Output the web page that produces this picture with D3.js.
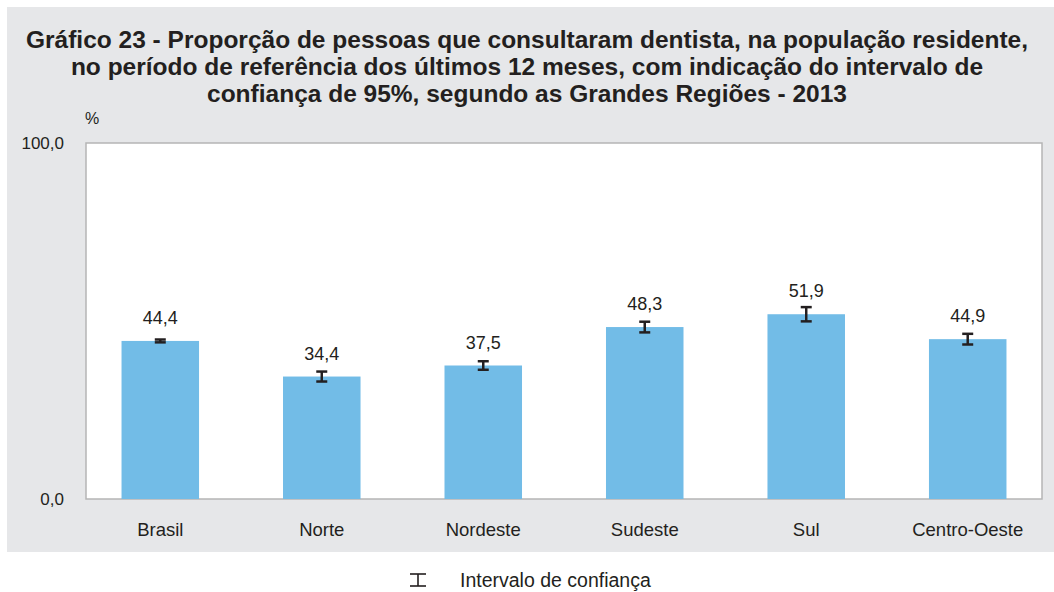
<!DOCTYPE html>
<html>
<head>
<meta charset="utf-8">
<script src="https://cdn.jsdelivr.net/npm/d3@7"></script>
<style>
  body { margin: 0; background: #fff; }
  text { font-family: "Liberation Sans", Arial, sans-serif; }
</style>
</head>
<body>
<div id="chart"></div>
<script>
// data
var regions = ["Brasil", "Norte", "Nordeste", "Sudeste", "Sul", "Centro-Oeste"];
var values = [44.4, 34.4, 37.5, 48.3, 51.9, 44.9];
var ciLow = [44.0, 33.0, 36.3, 46.8, 49.9, 43.4];
var ciHigh = [44.8, 35.8, 38.7, 49.8, 53.9, 46.4];
var yTicks = [0, 100];
var titleLines = [
  "Gráfico 23 - Proporção de pessoas que consultaram dentista, na população residente,",
  "no período de referência dos últimos 12 meses, com indicação do intervalo de",
  "confiança de 95%, segundo as Grandes Regiões - 2013"
];

var W = 1054, H = 592;
var margin = {top: 143, right: 12, bottom: 93, left: 86},
    width = W - margin.left - margin.right,
    height = 356;

var svg = d3.select("#chart").append("svg")
  .attr("width", W).attr("height", H);

// gray panel
svg.append("rect")
  .attr("x", 7).attr("y", 7)
  .attr("width", W - 7).attr("height", 545)
  .attr("fill", "#e6e7e9");

// title
svg.append("g").selectAll("text")
  .data(titleLines)
  .enter().append("text")
  .attr("x", W / 2)
  .attr("y", (d, i) => 48 + i * 27)
  .attr("text-anchor", "middle")
  .style("font-weight", "bold")
  .style("font-size", "24.5px")
  .attr("fill", "#231f20")
  .text(d => d);

var g = svg.append("g")
  .attr("transform", "translate(" + margin.left + "," + margin.top + ")");

var x = d3.scaleBand()
  .domain(regions)
  .range([0, width])
  .paddingInner(0.52)
  .paddingOuter(0.22);

var y = d3.scaleLinear()
  .domain([0, 100])
  .range([height, 0]);

// plot area
g.append("rect")
  .attr("x", 0).attr("y", 0)
  .attr("width", width).attr("height", height)
  .attr("fill", "#fff")
  .attr("stroke", "#b5b5b5")
  .attr("stroke-width", 1.5);

// bars
g.selectAll(".bar")
  .data(regions)
  .enter().append("rect")
  .attr("class", "bar")
  .attr("x", d => x(d))
  .attr("y", (d, i) => y(values[i]))
  .attr("width", x.bandwidth())
  .attr("height", (d, i) => y(0) - y(values[i]))
  .attr("fill", "#72bce7");

// error bars
var eb = g.selectAll(".err")
  .data(regions)
  .enter().append("g")
  .attr("class", "err")
  .attr("transform", d => "translate(" + (x(d) + x.bandwidth() / 2) + ",0)")
  .attr("stroke", "#231f20")
  .attr("stroke-width", 2.5);

eb.append("line")
  .attr("y1", (d, i) => y(ciLow[i]))
  .attr("y2", (d, i) => y(ciHigh[i]));
eb.append("line")
  .attr("x1", -5.5).attr("x2", 5.5)
  .attr("y1", (d, i) => y(ciLow[i])).attr("y2", (d, i) => y(ciLow[i]));
eb.append("line")
  .attr("x1", -5.5).attr("x2", 5.5)
  .attr("y1", (d, i) => y(ciHigh[i])).attr("y2", (d, i) => y(ciHigh[i]));

// value labels
g.selectAll(".val")
  .data(regions)
  .enter().append("text")
  .attr("class", "val")
  .attr("x", d => x(d) + x.bandwidth() / 2)
  .attr("y", (d, i) => y(values[i]) - 17)
  .attr("text-anchor", "middle")
  .style("font-size", "18px")
  .attr("fill", "#231f20")
  .text((d, i) => d3.format(".1f")(values[i]).replace(".", ","));

// x axis labels
var xAxis = g.append("g")
  .attr("transform", "translate(0," + height + ")")
  .call(d3.axisBottom(x).tickSize(0).tickPadding(24));
xAxis.select(".domain").remove();
xAxis.selectAll("text")
  .style("font-size", "18.5px")
  .style("font-family", "'Liberation Sans', Arial, sans-serif")
  .attr("fill", "#231f20");

// y axis labels
var yAxis = g.append("g")
  .call(d3.axisLeft(y).tickValues(yTicks).tickSize(0).tickPadding(22)
    .tickFormat(d => d3.format(".1f")(d).replace(".", ",")));
yAxis.select(".domain").remove();
yAxis.selectAll("text")
  .style("font-size", "17px")
  .style("font-family", "'Liberation Sans', Arial, sans-serif")
  .attr("fill", "#231f20");

svg.append("text")
  .attr("x", 85).attr("y", 124)
  .style("font-size", "16px")
  .attr("fill", "#231f20")
  .text("%");

// legend
var leg = svg.append("g")
  .attr("transform", "translate(418,580)")
  .attr("stroke", "#231f20")
  .attr("stroke-width", 1.6);
leg.append("line").attr("x1", -8).attr("x2", 8).attr("y1", -6).attr("y2", -6);
leg.append("line").attr("x1", -8).attr("x2", 8).attr("y1", 6).attr("y2", 6);
leg.append("line").attr("x1", 0).attr("x2", 0).attr("y1", -6).attr("y2", 6);

svg.append("text")
  .attr("x", 460).attr("y", 587)
  .style("font-size", "19.5px")
  .attr("fill", "#231f20")
  .text("Intervalo de confiança");
</script>
</body>
</html>
